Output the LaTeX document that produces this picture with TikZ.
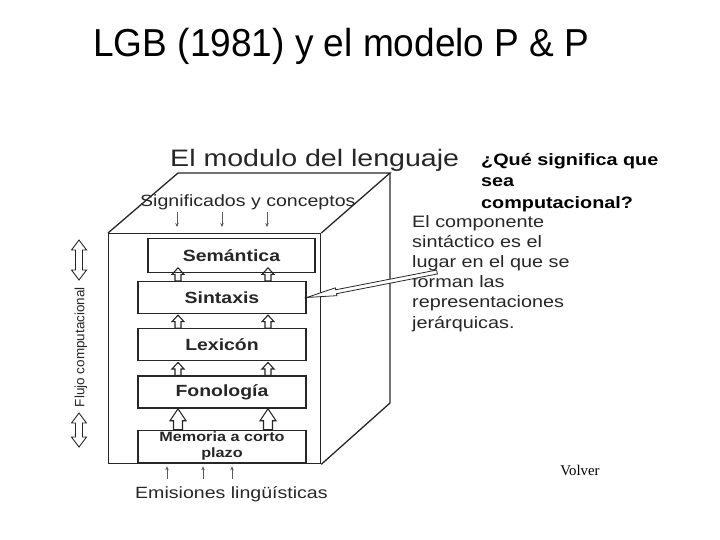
\documentclass[tikz,border=0pt]{standalone}
\usepackage{fontspec}
\setmainfont{Liberation Sans}
\newfontfamily\titlefont{Liberation Sans}[FakeStretch=0.95]
\newfontfamily\figfont{Liberation Sans}[FakeStretch=1.2]
\newfontfamily\volverfont{Liberation Serif}
\usepackage{xcolor}
\usetikzlibrary{arrows.meta, calc, backgrounds, positioning}

\colorlet{ink}{black!85}

\tikzset{
  modbox/.style={draw=ink, line width=1.3pt, minimum width=168pt, minimum height=32pt,
    inner sep=0pt, text=ink, font=\figfont\bfseries\fontsize{16.2}{18}\selectfont},
  figtext/.style={inner sep=0pt, text=ink, font=\figfont\fontsize{16.3}{19}\selectfont},
  thinarr/.style={draw=ink!75, line width=0.6pt, -{Stealth[length=4pt, width=3.5pt]}},
  pics/uparr/.style n args={4}{code={%
    \draw[ink, line width=1.1pt, fill=white]
      (-#2,0) -- (-#2,{-(#1-#4)}) -- (-#3,{-(#1-#4)}) -- (0,-#1)
      -- (#3,{-(#1-#4)}) -- (#2,{-(#1-#4)}) -- (#2,0) -- cycle;
  }},
  pics/dblarr/.style n args={4}{code={%
    \draw[ink, line width=0.9pt, fill=white]
      (0,0) -- (#3,-#4) -- (#2,-#4) -- (#2,{-(#1-#4)}) -- (#3,{-(#1-#4)}) -- (0,-#1)
      -- (-#3,{-(#1-#4)}) -- (-#2,{-(#1-#4)}) -- (-#2,-#4) -- (-#3,-#4) -- cycle;
  }}
}

\begin{document}
\begin{tikzpicture}[x=1pt, y=-1pt]
  \useasboundingbox (0,0) rectangle (720,540);

  % title
  \node[anchor=base, inner sep=0pt, font=\titlefont\fontsize{39}{43}\selectfont] (T) at (341.5,57)
    {LGB (1981) y el modelo P \& P};

  % the module as a box
  \node[figtext, anchor=base west, font=\figfont\fontsize{23.8}{28}\selectfont] (M) at (170,167)
    {El modulo del lenguaje};
  \node[draw=ink, line width=1.3pt, minimum width=212pt, minimum height=230pt,
    anchor=north west] (F) at (108,233) {};
  \draw[ink, line width=1.3pt] (F.north west) -- ++(70,-60) coordinate (BNW)
    -- ++(212,0) coordinate (BNE) -- (F.north east);
  \draw[ink, line width=1.3pt] (BNE) -- ++(0,230) coordinate (BSE) -- (F.south east);

  % components
  \node[modbox] (Sin) at (222,297.5) {Sintaxis};
  \node[modbox, minimum height=34pt, above=8pt of Sin, xshift=9.5pt, minimum width=167pt] (Sem) {Semántica};
  \node[modbox, below=14pt of Sin] (Lex) {Lexicón};
  \node[modbox, below=14pt of Lex] (Fon) {Fonología};
  \node[modbox, below=21pt of Fon, align=center,
    font=\figfont\bfseries\fontsize{13.5}{16}\selectfont] (Mem) {Memoria a corto\\plazo};

  \begin{scope}[on background layer]
    \foreach \lo in {Sin,Lex,Fon}
      \foreach \ax in {178,268}
        \pic at (\lo.north -| \ax,0) {uparr={13}{3}{6}{6.5}};
    \foreach \ax in {178,268}
      \pic at (Mem.north -| \ax,0) {uparr={21}{4.5}{8}{12}};
  \end{scope}

  % input and output
  \node[figtext, anchor=base west] (Sig) at (140,207) {Significados y conceptos};
  \node[figtext, anchor=base west] (Emi) at (135,498) {Emisiones lingüísticas};
  \foreach \x in {177,222,267}
    \draw[thinarr, shorten <=1.5pt, shorten >=6pt] (Sig.south -| \x,0) -- (F.north -| \x,0);
  \foreach \x in {167,203,232}
    \draw[thinarr, shorten <=7pt, shorten >=2pt] (Emi.north -| \x,0) -- (F.south -| \x,0);

  % flow on the left
  \node[rotate=90, inner sep=0pt, text=ink, font=\fontsize{13.5}{15}\selectfont] (Fl) at (81,347)
    {Flujo computacional};
  \pic at (79,280) {dblarr={40}{3.5}{7.5}{10}};
  \pic at (79,447) {dblarr={34}{3.5}{7.5}{10}};

  % comment on syntax
  \node[figtext, anchor=north west, align=left, font=\figfont\fontsize{16.5}{20.2}\selectfont] (C) at (412,215)
    {El componente\\sintáctico es el\\lugar en el que se\\forman las\\representaciones\\jerárquicas.};
  \coordinate (Ct) at (437,272);
  \draw[ink, line width=0.8pt, fill=white]
    (Sin.east) -- ($(Sin.east)!30pt!(Ct)!4pt!90:(Ct)$) -- ($(Sin.east)!30pt!(Ct)!2pt!90:(Ct)$)
    -- ($(Ct)!2pt!270:(Sin.east)$) -- ($(Ct)!2pt!90:(Sin.east)$)
    -- ($(Sin.east)!30pt!(Ct)!2pt!270:(Ct)$) -- ($(Sin.east)!30pt!(Ct)!4pt!270:(Ct)$) -- cycle;

  % question
  \node[anchor=north west, align=left, inner sep=0pt, font=\figfont\bfseries\fontsize{16.5}{21.5}\selectfont] (Q) at (481,153)
    {¿Qué significa que\\sea\\computacional?};

  \node[anchor=base, inner sep=0pt, font=\volverfont\fontsize{14.8}{16}\selectfont] (V) at (580,475) {Volver};
\end{tikzpicture}
\end{document}
